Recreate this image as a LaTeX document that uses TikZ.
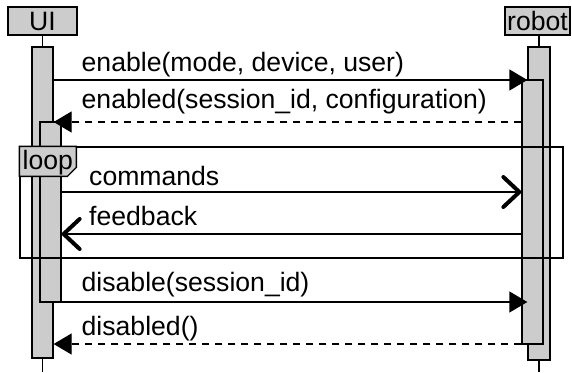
\documentclass[tikz,border=0pt]{standalone}
\usepackage{fontspec}
\setmainfont{Liberation Sans}
\usetikzlibrary{arrows.meta}
\definecolor{actgray}{RGB}{204,204,204}

\begin{document}
\begin{tikzpicture}[x=1pt, y=-1pt, font=\fontsize{26.6}{30}\selectfont]
    \tikzstyle{head} = [rectangle, draw, fill=actgray, line width=1.3pt, minimum height=28pt, inner sep=0pt]
    \tikzstyle{act} = [rectangle, draw, fill=actgray, line width=1.3pt, minimum width=21pt, inner sep=0pt]
    \tikzstyle{life} = [line width=1.3pt]
    \tikzstyle{call} = [line width=1.3pt, -{Triangle[length=18pt,width=21pt]}]
    \tikzstyle{reply} = [call, dash pattern=on 7pt off 6pt]
    \tikzstyle{async} = [line width=1.3pt, -{Straight Barb[length=16pt,width=30pt,line width=4pt,round]}]
    \tikzstyle{msgtext} = [anchor=base west, inner sep=0pt]

    \useasboundingbox (0,0) rectangle (572,372);

    % Participants
    \node [head, minimum width=69pt] (ui) at (42.5,21) {UI};
    \node [head, minimum width=65pt] (robot) at (537.5,21) {robot};

    % Lifelines
    \coordinate (uiEnd) at (42.5,372);
    \coordinate (robotEnd) at (539,372);
    \draw [life] (ui.south) -- (uiEnd);
    \draw [life] (robot.south -| robotEnd) -- (robotEnd);

    % Activations
    \node [act, minimum height=311pt] (uiOuter) at (42.5,202.5) {};
    \node [act, minimum height=180pt] (uiInner) at (50.5,212) {};
    \node [act, minimum width=22pt, minimum height=313pt] (robotOuter) at (539,203.5) {};
    \node [act, minimum height=264pt] (robotInner) at (532.5,212) {};

    % Loop frame
    \node [draw, line width=1.3pt, minimum width=543pt, minimum height=111pt, inner sep=0pt] (loop) at (291.5,202.5) {};
    \draw [line width=1.3pt, fill=actgray] (loop.north west) -- ++(57,0) -- ++(0,21) -- ++(-9,9) -- ++(-48,0) -- cycle;
    \node [msgtext] (loopText) at (22.5,169) {loop};

    % Message rows
    \coordinate (r1) at (0,80);
    \coordinate (r2) at (0,122);
    \coordinate (r3) at (0,192);
    \coordinate (r4) at (0,234);
    \coordinate (r5) at (0,302);
    \coordinate (r6) at (0,344);

    % Messages
    \draw [call] (uiOuter.east |- r1) -- (robotOuter.west |- r1);
    \draw [reply] (robotInner.west |- r2) -- (uiOuter.east |- r2);
    \draw [async] (uiInner.east |- r3) -- (robotInner.west |- r3);
    \draw [async] (robotInner.west |- r4) -- (uiInner.east |- r4);
    \draw [call] (uiInner.east |- r5) -- (robotOuter.west |- r5);
    \draw [reply] (robotInner.west |- r6) -- (uiOuter.east |- r6);

    \node [msgtext] (tEnable) at (81.5,71) {enable(mode, device, user)};
    \node [msgtext] (tEnabled) at (81.5,108.3) {enabled(session\_id, configuration)};
    \node [msgtext] (tCommands) at (89,185.5) {commands};
    \node [msgtext] (tFeedback) at (89,225.7) {feedback};
    \node [msgtext] (tDisable) at (81.5,291.7) {disable(session\_id)};
    \node [msgtext] (tDisabled) at (81.5,335) {disabled()};
\end{tikzpicture}
\end{document}
